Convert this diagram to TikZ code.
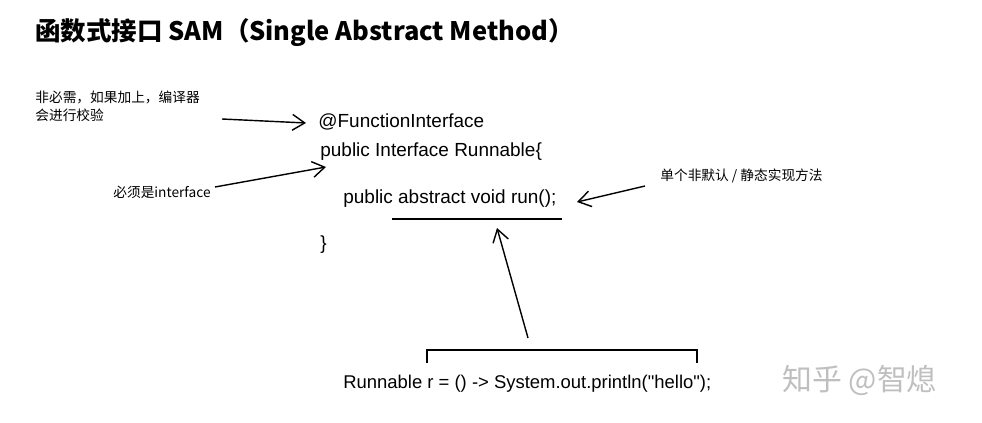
\documentclass[tikz,border=0pt]{standalone}
\usepackage{fontspec}
\setmainfont{Liberation Sans}
\newfontfamily\cjk{Noto Sans CJK SC}
\usetikzlibrary{arrows.meta}
\tikzset{
  code/.style={anchor=base west, inner sep=0pt, font=\fontsize{10.8}{13}\selectfont},
  note/.style={anchor=base west, inner sep=0pt, align=left, font=\cjk\fontsize{7.8}{10.5}\selectfont},
  pointer/.style={thick, -{Straight Barb[length=7pt,width=9pt]}}
}
\begin{document}
\begin{tikzpicture}[x=0.02cm, y=-0.02cm]
        \useasboundingbox (0,0) rectangle (982,422);

        % Title
        \node[anchor=base west, inner sep=0pt, font=\cjk\bfseries\fontsize{14.5}{16}\selectfont] (title) at (35,41) {函数式接口 SAM（Single Abstract Method）};

        % Code lines
        \node[code] (anno) at (318,128) {@FunctionInterface};
        \node[code] (iface) at (320,156) {public Interface Runnable\{};
        \node[code] (run) at (343,203) {public abstract void run();};
        \node[code] (close) at (320,249) {\}};
        \node[code, font=\fontsize{10.5}{13}\selectfont] (lambda) at (343,388) {Runnable r = () -> System.out.println(\textquotedbl hello\textquotedbl);};

        % Notes
        \node[note] (optional) at (35,121) {非必需，如果加上，编译器\\会进行校验};
        \node[note] (mustiface) at (113,197) {必须是interface};
        \node[note] (single) at (660,180) {单个非默认 / 静态实现方法};

        % Watermark
        \node[anchor=base west, inner sep=0pt, text=black!25, font=\cjk\fontsize{17}{19}\selectfont] (mark) at (782,390) {知乎 @智熄};

        % Underline and bracket
        \coordinate (ulL) at (392,219);
        \coordinate (ulR) at (562,219);
        \draw[thick] (ulL) -- (ulR);
        \coordinate (brL) at (427,363);
        \coordinate (brR) at (697,363);
        \draw[thick] (brL) -- ++(0,-13) -| (brR);

        % Pointers
        \coordinate (optTail) at (222,119);
        \coordinate (optHead) at (306,123);
        \draw[pointer] (optTail) -- (optHead);
        \coordinate (ifTail) at (215,187);
        \coordinate (ifHead) at (326,167);
        \draw[pointer] (ifTail) -- (ifHead);
        \coordinate (sgTail) at (645,186);
        \coordinate (sgHead) at (577,202);
        \draw[pointer] (sgTail) -- (sgHead);
        \coordinate (lmTail) at (528,338);
        \coordinate (lmHead) at (497,228);
        \draw[pointer] (lmTail) -- (lmHead);
    \end{tikzpicture}
\end{document}
